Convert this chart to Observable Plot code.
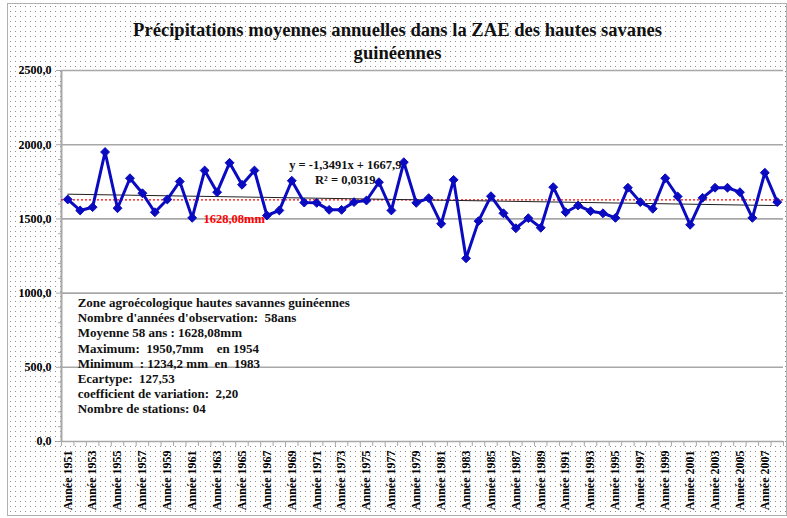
<!DOCTYPE html>
<html><head><meta charset="utf-8">
<script src="https://cdn.jsdelivr.net/npm/d3@7"></script>
<script src="https://cdn.jsdelivr.net/npm/@observablehq/plot@0.6"></script>
<style>
body{margin:0;background:#fff;}
#wrap{position:relative;width:787px;height:518px;overflow:hidden;}
#bg{position:absolute;left:7px;top:3px;width:778px;height:511px;border:1px solid #b0b0b0;background-color:#fff;
 background-image:radial-gradient(circle at 2.5px 2.5px, #8f8f8f 0.55px, transparent 0.75px);background-size:5px 5px;}
#chart{position:absolute;left:0;top:0;}
</style></head><body>
<div id="wrap"><div id="bg"></div><div id="chart"></div></div>
<script>
const years = [1951,1952,1953,1954,1955,1956,1957,1958,1959,1960,1961,1962,1963,1964,1965,1966,1967,1968,1969,1970,
  1971,1972,1973,1974,1975,1976,1977,1978,1979,1980,1981,1982,1983,1984,1985,1986,1987,1988,1989,1990,
  1991,1992,1993,1994,1995,1996,1997,1998,1999,2000,2001,2002,2003,2004,2005,2006,2007,2008];
const rainfall = [1631,1557,1579,1950.7,1572,1774,1673,1545,1631,1752,
  1507,1826,1680,1878,1730,1826,1523,1557,1757,1610,
  1608,1561,1561,1613,1624,1747,1557,1882,1608,1640,
  1467,1763,1234.2,1485,1653,1538,1437,1505,1440,1714,
  1545,1590,1552,1538,1507,1710,1613,1568,1774,1651,
  1460,1642,1710,1710,1680,1507,1811,1613];
const yTicks = [0,500,1000,1500,2000,2500];
const yMinorTicks = [100,200,300,400,600,700,800,900,1100,1200,1300,1400,1600,1700,1800,1900,2100,2200,2300,2400];
const labelYears = [1951,1953,1955,1957,1959,1961,1963,1965,1967,1969,1971,1973,1975,1977,1979,
  1981,1983,1985,1987,1989,1991,1993,1995,1997,1999,2001,2003,2005,2007];
const meanValue = 1628.08;
const trendSlope = -1.3491, trendIntercept = 1667.9;
const titleLines = ["Précipitations moyennes annuelles dans la ZAE des hautes savanes", "guinéennes"];
const meanLabel = [{year:1961.9, value:1496, text:"1628,08mm"}];
const equationLabels = [{year:1973.3, value:1860, text:"y = -1,3491x + 1667,9"},{year:1973.3, value:1759, text:"R² = 0,0319"}];
const statsLines = ["Zone agroécologique hautes savannes guinéennes","Nombre d'années d'observation:  58ans",
  "Moyenne 58 ans : 1628,08mm","Maximum:  1950,7mm    en 1954","Minimum  : 1234,2 mm  en  1983",
  "Ecartype:  127,53","coefficient de variation:  2,20","Nombre de stations: 04"];
const statsAnchor = [{year:1951.8, value:979}];

const data = years.map((year,i)=>({year, value: rainfall[i]}));
const trend = [
  {year: years[0], value: trendIntercept + trendSlope*1},
  {year: years[years.length-1], value: trendIntercept + trendSlope*years.length}];
const boundaries = years.map(y=>y-0.5).concat([years[years.length-1]+0.5]);
const xDomain = [boundaries[0], boundaries[boundaries.length-1]];
const serif = "'Liberation Serif','Times New Roman',serif";
const blue = "#0a0ac0";
const grid = "#a8a8a8";

const chart = Plot.plot({
  width:787, height:518,
  marginLeft:61, marginRight:4, marginTop:70, marginBottom:77,
  style:{background:"transparent", fontFamily:serif, fontWeight:"bold", fontSize:"12px", color:"black"},
  x:{type:"linear", domain:xDomain},
  y:{domain:[0,2500]},
  marks:[
    Plot.frame({fill:"white", stroke:null}),
    Plot.gridY(yTicks,{stroke:grid, strokeOpacity:1, strokeWidth:1.6}),
    Plot.axisY(yMinorTicks,{tickSize:3, tickFormat:()=>"", label:null, stroke:grid}),
    Plot.axisY(yTicks,{tickSize:5, tickPadding:5, label:null, stroke:grid, fill:"black",
      tickFormat:d=>d.toFixed(1).replace(".",","), fontSize:12}),
    Plot.axisX(boundaries,{tickSize:5, tickFormat:()=>"", label:null, stroke:grid}),
    Plot.axisX(labelYears,{tickSize:0, tickPadding:9, tickRotate:-90, label:null, fill:"black",
      tickFormat:d=>"Année "+d, fontSize:12}),
    Plot.ruleX([xDomain[0]],{stroke:grid, strokeWidth:2}),
    Plot.ruleY([meanValue],{stroke:"#ff0000", strokeWidth:1.2, strokeDasharray:"2,2"}),
    Plot.line(trend,{x:"year", y:"value", stroke:"#202020", strokeWidth:1}),
    Plot.line(data,{x:"year", y:"value", stroke:blue, strokeWidth:3}),
    Plot.dot(data,{x:"year", y:"value", symbol:"diamond2", r:4, fill:blue, stroke:blue, strokeWidth:1}),
    Plot.text(meanLabel,{x:"year", y:"value", text:"text", textAnchor:"start", fill:"#ff0000", fontSize:12.5, fontWeight:"bold"}),
    Plot.text(equationLabels,{x:"year", y:"value", text:"text", textAnchor:"middle", fill:"#111", fontSize:12.5, fontWeight:"bold"}),
    Plot.text(statsAnchor,{x:"year", y:"value", text:()=>statsLines.join("\n"), textAnchor:"start", lineAnchor:"top",
      lineHeight:1.17, fill:"#111", fontSize:13, fontWeight:"bold"}),
    Plot.text([titleLines[0]],{text:d=>d, frameAnchor:"top", dx:-25, dy:-48, fontSize:18.6, fontWeight:"bold", fill:"#111"}),
    Plot.text([titleLines[1]],{text:d=>d, frameAnchor:"top", dx:-25, dy:-25, fontSize:18.6, fontWeight:"bold", fill:"#111"})
  ]
});
document.getElementById("chart").appendChild(chart);
</script>
</body></html>
